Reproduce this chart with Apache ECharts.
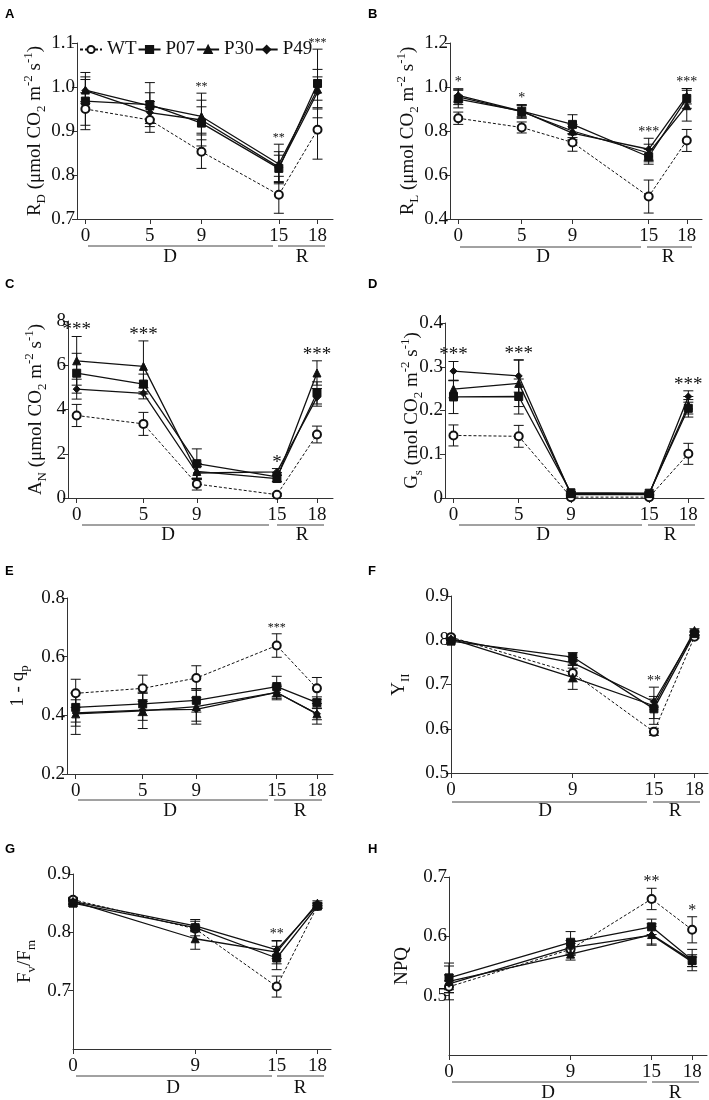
<!DOCTYPE html>
<html><head><meta charset="utf-8">
<script src="https://cdn.jsdelivr.net/npm/echarts@6/dist/echarts.min.js"></script>
<style>html,body{margin:0;padding:0;background:#fff}#c{width:709px;height:1100px}</style>
</head><body><div id="c"></div>
<script>
// ---------- DATA ----------
const daysLong = [0, 5, 9, 15, 18];
const daysShort = [0, 9, 15, 18];
const groups = ['WT', 'P07', 'P30', 'P49'];

// A: R_D
const rdWT = [0.950, 0.925, 0.853, 0.755, 0.903];  const rdWTerr = [0.037, 0.028, 0.038, 0.042, 0.067];
const rdP07 = [0.968, 0.960, 0.918, 0.815, 1.008]; const rdP07err = [0.065, 0.050, 0.052, 0.030, 0.078];
const rdP30 = [0.993, 0.957, 0.933, 0.825, 0.995]; const rdP30err = [0.030, 0.030, 0.053, 0.045, 0.045];
const rdP49 = [0.992, 0.942, 0.925, 0.818, 0.988]; const rdP49err = [0.025, 0.025, 0.030, 0.035, 0.035];
const rdStars = ['', '', '**', '**', '***'];
const rdTicks = [0.7, 0.8, 0.9, 1.0, 1.1];

// B: R_L
const rlWT = [0.858, 0.816, 0.748, 0.502, 0.757];  const rlWTerr = [0.028, 0.025, 0.040, 0.075, 0.050];
const rlP07 = [0.945, 0.890, 0.830, 0.683, 0.948]; const rlP07err = [0.040, 0.030, 0.044, 0.034, 0.045];
const rlP30 = [0.955, 0.888, 0.800, 0.700, 0.915]; const rlP30err = [0.035, 0.030, 0.030, 0.040, 0.070];
const rlP49 = [0.962, 0.890, 0.790, 0.717, 0.958]; const rlP49err = [0.030, 0.025, 0.030, 0.050, 0.035];
const rlStars = ['*', '*', '', '***', '***'];
const rlTicks = [0.4, 0.6, 0.8, 1.0, 1.2];

// C: A_N
const anWT = [3.73, 3.35, 0.63, 0.15, 2.87];  const anWTerr = [0.50, 0.52, 0.27, 0.06, 0.38];
const anP07 = [5.64, 5.15, 1.55, 0.95, 4.75]; const anP07err = [0.90, 0.45, 0.67, 0.20, 0.50];
const anP30 = [6.20, 5.95, 1.20, 0.88, 5.65]; const anP30err = [1.10, 1.15, 0.35, 0.15, 0.55];
const anP49 = [4.92, 4.73, 1.13, 1.18, 4.55]; const anP49err = [0.45, 0.25, 0.30, 0.15, 0.40];
const anStars = ['***', '***', '', '*', '***'];
const anTicks = [0, 2, 4, 6, 8];

// D: G_s
const gsWT = [0.143, 0.141, 0.002, 0.002, 0.101];  const gsWTerr = [0.024, 0.025, 0.002, 0.002, 0.024];
const gsP07 = [0.231, 0.232, 0.012, 0.011, 0.205]; const gsP07err = [0.038, 0.040, 0.003, 0.003, 0.020];
const gsP30 = [0.249, 0.262, 0.010, 0.010, 0.212]; const gsP30err = [0.020, 0.053, 0.003, 0.003, 0.020];
const gsP49 = [0.290, 0.279, 0.008, 0.008, 0.232]; const gsP49err = [0.022, 0.037, 0.002, 0.002, 0.013];
const gsStars = ['***', '***', '', '', '***'];
const gsTicks = [0, 0.1, 0.2, 0.3, 0.4];

// E: 1 - qp
const qpWT = [0.475, 0.492, 0.527, 0.638, 0.492];  const qpWTerr = [0.048, 0.045, 0.042, 0.040, 0.037];
const qpP07 = [0.427, 0.439, 0.451, 0.498, 0.443]; const qpP07err = [0.050, 0.040, 0.040, 0.035, 0.020];
const qpP30 = [0.405, 0.415, 0.430, 0.478, 0.405]; const qpP30err = [0.070, 0.060, 0.060, 0.025, 0.035];
const qpP49 = [0.408, 0.418, 0.420, 0.478, 0.405]; const qpP49err = [0.045, 0.035, 0.040, 0.020, 0.020];
const qpStars = ['', '', '', '***', ''];
const qpTicks = [0.2, 0.4, 0.6, 0.8];

// F: Y_II
const yiiWT = [0.807, 0.726, 0.593, 0.808];  const yiiWTerr = [0.003, 0.020, 0.008, 0.003];
const yiiP07 = [0.798, 0.762, 0.645, 0.815]; const yiiP07err = [0.004, 0.010, 0.022, 0.004];
const yiiP30 = [0.803, 0.716, 0.652, 0.822]; const yiiP30err = [0.004, 0.027, 0.042, 0.004];
const yiiP49 = [0.803, 0.749, 0.661, 0.817]; const yiiP49err = [0.004, 0.012, 0.012, 0.004];
const yiiStars = ['', '', '**', ''];
const yiiTicks = [0.5, 0.6, 0.7, 0.8, 0.9];

// G: Fv/Fm
const fvWT = [0.856, 0.806, 0.707, 0.845];  const fvWTerr = [0.004, 0.005, 0.018, 0.004];
const fvP07 = [0.850, 0.808, 0.756, 0.845]; const fvP07err = [0.005, 0.014, 0.020, 0.004];
const fvP30 = [0.853, 0.789, 0.766, 0.850]; const fvP30err = [0.005, 0.018, 0.020, 0.004];
const fvP49 = [0.853, 0.811, 0.770, 0.847]; const fvP49err = [0.004, 0.008, 0.015, 0.004];
const fvStars = ['', '', '**', ''];
const fvTicks = [0.7, 0.8, 0.9];
const fvMin = 0.6;

// H: NPQ
const npqWT = [0.515, 0.578, 0.663, 0.611];  const npqWTerr = [0.010, 0.010, 0.018, 0.022];
const npqP07 = [0.530, 0.590, 0.616, 0.560]; const npqP07err = [0.020, 0.018, 0.013, 0.018];
const npqP30 = [0.524, 0.570, 0.603, 0.559]; const npqP30err = [0.031, 0.010, 0.018, 0.010];
const npqP49 = [0.520, 0.581, 0.602, 0.557]; const npqP49err = [0.015, 0.012, 0.015, 0.008];
const npqStars = ['', '', '**', '*'];
const npqTicks = [0.5, 0.6, 0.7];
const npqMin = 0.4;

const phaseLabels = ['D', 'R'];

// ---------- PANELS ----------
const panels = [
  {letter:'A', days:daysLong, mean:[rdWT,rdP07,rdP30,rdP49], err:[rdWTerr,rdP07err,rdP30err,rdP49err], stars:rdStars, ticks:rdTicks, yMin:rdTicks[0], yMax:rdTicks[rdTicks.length-1], dec:1,
   name:'{m|R}{sub|D}{m| (μmol CO}{sub|2}{m| m}{sup|-2}{m| s}{sup|-1}{m|)}'},
  {letter:'B', days:daysLong, mean:[rlWT,rlP07,rlP30,rlP49], err:[rlWTerr,rlP07err,rlP30err,rlP49err], stars:rlStars, ticks:rlTicks, yMin:rlTicks[0], yMax:rlTicks[rlTicks.length-1], dec:1,
   name:'{m|R}{sub|L}{m| (μmol CO}{sub|2}{m| m}{sup|-2}{m| s}{sup|-1}{m|)}'},
  {letter:'C', days:daysLong, mean:[anWT,anP07,anP30,anP49], err:[anWTerr,anP07err,anP30err,anP49err], stars:anStars, ticks:anTicks, yMin:anTicks[0], yMax:anTicks[anTicks.length-1], dec:0,
   name:'{m|A}{sub|N}{m| (μmol CO}{sub|2}{m| m}{sup|-2}{m| s}{sup|-1}{m|)}'},
  {letter:'D', days:daysLong, mean:[gsWT,gsP07,gsP30,gsP49], err:[gsWTerr,gsP07err,gsP30err,gsP49err], stars:gsStars, ticks:gsTicks, yMin:gsTicks[0], yMax:gsTicks[gsTicks.length-1], dec:1,
   name:'{m|G}{sub|s}{m| (mol CO}{sub|2}{m| m}{sup|-2}{m| s}{sup|-1}{m|)}'},
  {letter:'E', days:daysLong, mean:[qpWT,qpP07,qpP30,qpP49], err:[qpWTerr,qpP07err,qpP30err,qpP49err], stars:qpStars, ticks:qpTicks, yMin:qpTicks[0], yMax:qpTicks[qpTicks.length-1], dec:1,
   name:'{m|1 - q}{sub|p}'},
  {letter:'F', days:daysShort, mean:[yiiWT,yiiP07,yiiP30,yiiP49], err:[yiiWTerr,yiiP07err,yiiP30err,yiiP49err], stars:yiiStars, ticks:yiiTicks, yMin:yiiTicks[0], yMax:yiiTicks[yiiTicks.length-1], dec:1,
   name:'{m|Y}{sub|II}'},
  {letter:'G', days:daysShort, mean:[fvWT,fvP07,fvP30,fvP49], err:[fvWTerr,fvP07err,fvP30err,fvP49err], stars:fvStars, ticks:fvTicks, yMin:fvMin, yMax:fvTicks[fvTicks.length-1], dec:1,
   name:'{m|F}{sub|v}{m|/F}{sub|m}'},
  {letter:'H', days:daysShort, mean:[npqWT,npqP07,npqP30,npqP49], err:[npqWTerr,npqP07err,npqP30err,npqP49err], stars:npqStars, ticks:npqTicks, yMin:npqMin, yMax:npqTicks[npqTicks.length-1], dec:1,
   name:'{m|NPQ}'}
];

// ---------- LAYOUT ----------
const layout = [
  {grid:{left:77,top:43,width:256,height:176},  xMin:-0.65, xMax:19.2, gap:29, star:12, lx:5,   ly:8,   brk:{d:[88,273],  r:[278,325], y:246,  dx:170, rx:302, ty:257}},
  {grid:{left:450,top:43,width:252,height:176}, xMin:-0.65, xMax:19.2, gap:29, star:14, lx:368, ly:8,   brk:{d:[460,641], r:[647,692], y:247,  dx:543, rx:668, ty:257}},
  {grid:{left:68,top:321,width:265,height:177}, xMin:-0.65, xMax:19.2, gap:19, star:19, lx:5,   ly:278, brk:{d:[82,269],  r:[277,324], y:525,  dx:168, rx:302, ty:535}},
  {grid:{left:445,top:323,width:259,height:175},xMin:-0.65, xMax:19.2, gap:20, star:19, lx:368, ly:278, brk:{d:[459,642], r:[648,695], y:525,  dx:543, rx:670, ty:535}},
  {grid:{left:67,top:598,width:266,height:176}, xMin:-0.65, xMax:19.2, gap:36, star:12, lx:5,   ly:565, brk:{d:[78,268],  r:[274,322], y:800,  dx:170, rx:300, ty:811}},
  {grid:{left:451,top:596,width:257,height:177},xMin:0,     xMax:19.0, gap:39, star:14, lx:368, ly:565, brk:{d:[452,647], r:[653,700], y:802,  dx:545, rx:675, ty:811}},
  {grid:{left:73,top:874,width:258,height:175}, xMin:0,     xMax:19.0, gap:35, star:14, lx:5,   ly:843, brk:{d:[76,272],  r:[277,324], y:1076, dx:173, rx:300, ty:1088}},
  {grid:{left:449,top:877,width:258,height:178},xMin:0,     xMax:19.1, gap:34, star:16, lx:368, ly:843, brk:{d:[452,647], r:[652,699], y:1082, dx:548, rx:675, ty:1093}}
];

const SERIF = 'Liberation Serif';
const INK = '#111';
const AXIS = '#333';
const seriesStyle = [
  {symbol:'emptyCircle', size:8, line:{type:[3,2], width:1}},
  {symbol:'rect', size:8, line:{type:'solid', width:1.3}},
  {symbol:'triangle', size:8, line:{type:'solid', width:1.3}},
  {symbol:'diamond', size:7, line:{type:'solid', width:1.3}}
];

const grids = [], xAxes = [], yAxes = [], series = [], graphic = [];

panels.forEach((p, i) => {
  const L = layout[i];
  grids.push(L.grid);
  xAxes.push({
    type:'value', gridIndex:i, min:L.xMin, max:L.xMax,
    axisLine:{show:true, onZero:false, lineStyle:{color:AXIS, width:1}},
    splitLine:{show:false},
    axisTick:{show:true, customValues:p.days, length:5, lineStyle:{color:AXIS}},
    axisLabel:{customValues:p.days, margin:8, color:INK, fontFamily:SERIF, fontSize:19}
  });
  yAxes.push({
    type:'value', gridIndex:i, min:p.yMin, max:p.yMax,
    axisLine:{show:true, onZero:false, lineStyle:{color:AXIS, width:1}},
    splitLine:{show:false},
    axisTick:{show:true, customValues:p.ticks, length:5, lineStyle:{color:AXIS}},
    axisLabel:{customValues:p.ticks, margin:2, color:INK, fontFamily:SERIF, fontSize:19,
      formatter:v => (v === 0 ? '0' : v.toFixed(p.dec))},
    name:p.name, nameLocation:'middle', nameGap:L.gap, nameMoveOverlap:false,
    nameTextStyle:{color:INK, rich:{
      m:{fontFamily:SERIF, fontSize:19, lineHeight:26, verticalAlign:'middle', color:INK},
      sub:{fontFamily:SERIF, fontSize:13, lineHeight:13, verticalAlign:'bottom', color:INK},
      sup:{fontFamily:SERIF, fontSize:13, lineHeight:13, verticalAlign:'top', color:INK}
    }}
  });

  // error bars
  const errRows = [];
  p.mean.forEach((vals, s) => {
    vals.forEach((v, j) => errRows.push([p.days[j], v - p.err[s][j], v + p.err[s][j]]));
  });
  series.push({
    type:'custom', xAxisIndex:i, yAxisIndex:i, z:1, silent:true,
    encode:{x:0, y:[1,2]},
    data:errRows,
    renderItem:(params, api) => {
      const x = api.value(0);
      const lo = api.coord([x, api.value(1)]);
      const hi = api.coord([x, api.value(2)]);
      const c = 5, st = {stroke:INK, lineWidth:1};
      return {type:'group', children:[
        {type:'line', shape:{x1:lo[0], y1:lo[1], x2:hi[0], y2:hi[1]}, style:st},
        {type:'line', shape:{x1:lo[0]-c, y1:lo[1], x2:lo[0]+c, y2:lo[1]}, style:st},
        {type:'line', shape:{x1:hi[0]-c, y1:hi[1], x2:hi[0]+c, y2:hi[1]}, style:st}
      ]};
    }
  });

  // lines
  p.mean.forEach((vals, s) => {
    const ss = seriesStyle[s];
    series.push({
      type:'line', name:groups[s], xAxisIndex:i, yAxisIndex:i, z:3,
      data:vals.map((v, j) => [p.days[j], v]),
      symbol:ss.symbol, symbolSize:ss.size, showAllSymbol:true,
      lineStyle:{color:INK, width:ss.line.width, type:ss.line.type},
      itemStyle:{color:INK, borderColor:INK, borderWidth:1},
      emphasis:{disabled:true}
    });
  });

  // significance stars above highest error bar
  const starRows = [], starText = [];
  p.stars.forEach((t, j) => {
    if (!t) return;
    let top = -Infinity;
    p.mean.forEach((vals, s) => { top = Math.max(top, vals[j] + p.err[s][j]); });
    starRows.push([p.days[j], top]);
    starText.push(t);
  });
  series.push({
    type:'custom', xAxisIndex:i, yAxisIndex:i, z:4, silent:true, clip:false,
    encode:{x:0, y:1},
    data:starRows,
    renderItem:(params, api) => {
      const pt = api.coord([api.value(0), api.value(1)]);
      return {type:'text', style:{text:starText[params.dataIndex], x:pt[0], y:pt[1]-6,
        font:L.star + 'px "' + SERIF + '"', fill:INK, textAlign:'center', textVerticalAlign:'middle',
        align:'center', verticalAlign:'middle'}};
    }
  });

  // panel letter
  graphic.push({type:'text', left:L.lx, top:L.ly, style:{text:p.letter, font:'bold 13px "Liberation Sans"', fill:'#000'}});
  // phase brackets
  const b = L.brk;
  graphic.push({type:'line', shape:{x1:b.d[0], y1:b.y, x2:b.d[1], y2:b.y}, style:{stroke:'#444', lineWidth:1}});
  graphic.push({type:'line', shape:{x1:b.r[0], y1:b.y, x2:b.r[1], y2:b.y}, style:{stroke:'#444', lineWidth:1}});
  graphic.push({type:'text', x:b.dx, y:b.ty, style:{text:phaseLabels[0], font:'19px "' + SERIF + '"', fill:INK, textAlign:'center', textVerticalAlign:'middle', align:'center', verticalAlign:'middle'}});
  graphic.push({type:'text', x:b.rx, y:b.ty, style:{text:phaseLabels[1], font:'19px "' + SERIF + '"', fill:INK, textAlign:'center', textVerticalAlign:'middle', align:'center', verticalAlign:'middle'}});
});

const chart = echarts.init(document.getElementById('c'), null, {renderer:'canvas'});
chart.setOption({
  animation:false,
  backgroundColor:'#fff',
  grid:grids, xAxis:xAxes, yAxis:yAxes, series:series, graphic:graphic,
  legend:{
    data:groups, left:79, top:40, padding:0, itemGap:1, itemWidth:22, itemHeight:9,
    selectedMode:false,
    textStyle:{fontFamily:SERIF, fontSize:19, color:INK}
  }
});
</script></body></html>
